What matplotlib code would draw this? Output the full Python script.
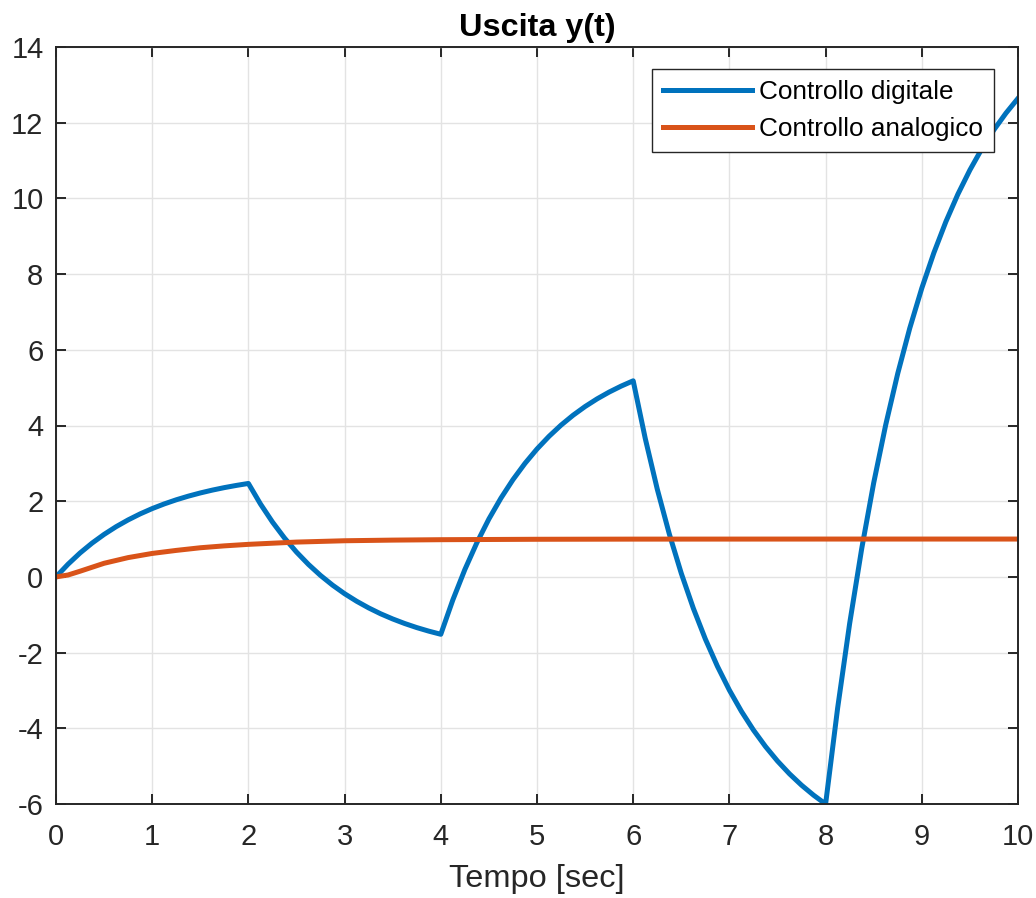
import matplotlib
matplotlib.use("Agg")
import matplotlib.pyplot as plt

plt.rcParams['font.family'] = ['Liberation Sans', 'DejaVu Sans']
plt.rcParams['axes.unicode_minus'] = False

t_dig = [i * 0.125 for i in range(81)]
y_dig = [
    0.000, 0.335, 0.632, 0.893, 1.123, 1.327, 1.506, 1.665, 1.805, 1.928, 2.037, 2.133, 2.218, 2.293, 2.359, 2.417,
    2.469, 1.928, 1.450, 1.028, 0.656, 0.328, 0.038, -0.218, -0.444, -0.643, -0.819, -0.975, -1.111, -1.232, -1.339, -1.433,
    -1.516, -0.609, 0.194, 0.903, 1.530, 2.081, 2.569, 2.999, 3.379, 3.714, 4.010, 4.271, 4.501, 4.704, 4.883, 5.041,
    5.181, 3.661, 2.320, 1.137, 0.092, -0.829, -1.642, -2.359, -2.993, -3.552, -4.046, -4.481, -4.865, -5.204, -5.503, -5.767,
    -6.001, -3.467, -1.231, 0.742, 2.484, 4.019, 5.375, 6.572, 7.628, 8.559, 9.383, 10.110, 10.750, 11.315, 11.813, 12.253,
    12.643,
]

# Analog control output
t_ana = [0, 0.125, 0.25, 0.5, 0.75, 1.0, 1.25, 1.5, 1.75, 2.0, 2.5, 3.0, 3.5, 4.0, 5.0, 6.0, 7.0, 8.0, 9.0, 10.0]
y_ana = [0, 0.05, 0.15, 0.36, 0.51, 0.62, 0.70, 0.77, 0.82, 0.86, 0.92, 0.955, 0.972, 0.983, 0.994, 0.998, 0.999, 1.0, 1.0, 1.0]

series_labels = ['Controllo digitale', 'Controllo analogico']
x_ticks = list(range(0, 11))
y_ticks = list(range(-6, 15, 2))

fig = plt.figure(figsize=(10.36, 8.98), dpi=100)
ax = fig.add_axes([56/1036, 94/898, 962/1036, 757/898])

ax.plot(t_dig, y_dig, color='#0072BD', lw=3.6, label=series_labels[0])
ax.plot(t_ana, y_ana, color='#D95319', lw=3.6, label=series_labels[1])

ax.set_xlim(0, 10)
ax.set_ylim(-6, 14)
ax.set_xticks(x_ticks)
ax.set_yticks(y_ticks)
ax.grid(True, color='#e3e3e3', lw=1.0)
ax.set_axisbelow(True)

axis_col = '#262626'
for s in ax.spines.values():
    s.set_color(axis_col)
    s.set_linewidth(1.4)
ax.tick_params(direction='in', length=7, width=1.4, colors=axis_col, labelsize=21,
               top=True, right=True, labelcolor=axis_col)
ax.tick_params(axis='x', pad=14)
ax.tick_params(axis='y', pad=9)

ax.set_title('Uscita y(t)', fontsize=23.3, fontweight='bold', pad=8, color='black')
ax.set_xlabel('Tempo [sec]', fontsize=23.4, color=axis_col, labelpad=9)

leg = ax.legend(loc='upper right', bbox_to_anchor=(1 - 24/962, 1 - 22/757), borderaxespad=0,
                fontsize=18.8, handlelength=3.4, fancybox=False, framealpha=1,
                edgecolor='#262626', borderpad=0.42, labelspacing=0.5, handletextpad=0.28)
leg.get_frame().set_linewidth(1.0)

fig.savefig('out.png', dpi=100)
